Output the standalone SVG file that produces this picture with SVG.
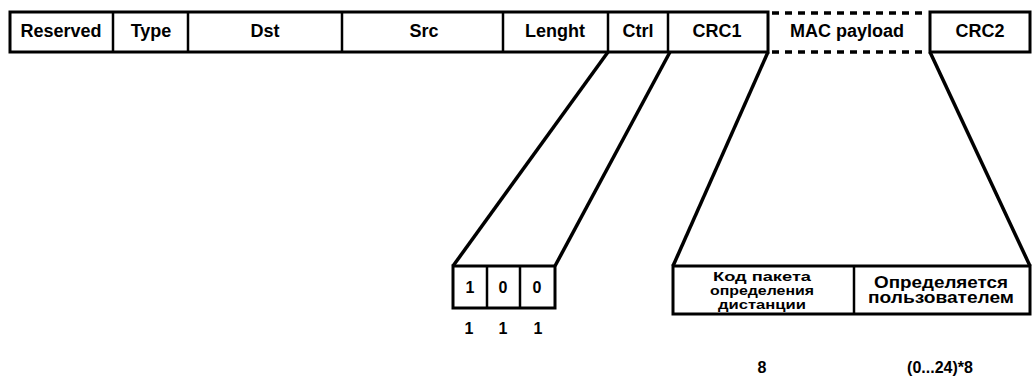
<svg xmlns="http://www.w3.org/2000/svg" width="1034" height="384" viewBox="0 0 1034 384">
<style>
text{font-family:"Liberation Sans",Arial,sans-serif;font-weight:bold;fill:#000;text-anchor:middle}
.h{font-size:18px}
.s{font-size:16px}
.t{font-size:13px}
.box{fill:#fff;stroke:#000;stroke-width:3}
.div{stroke:#000;stroke-width:2.5;fill:none}
.dash{stroke:#000;stroke-width:3.5;stroke-dasharray:7 6;fill:none}
.conn{stroke:#000;stroke-width:3.5;fill:none}
</style>
<rect width="1034" height="384" fill="#fff"/>
<g id="frame">
<rect class="box" x="10" y="12" width="758" height="40"/>
<line class="div" x1="113" y1="12" x2="113" y2="52"/>
<line class="div" x1="188" y1="12" x2="188" y2="52"/>
<line class="div" x1="342" y1="12" x2="342" y2="52"/>
<line class="div" x1="503" y1="12" x2="503" y2="52"/>
<line class="div" x1="608" y1="12" x2="608" y2="52"/>
<line class="div" x1="668" y1="12" x2="668" y2="52"/>
<line class="dash" x1="772" y1="13" x2="926" y2="13"/>
<line class="dash" x1="772" y1="52" x2="926" y2="52"/>
<rect class="box" x="930" y="12" width="100" height="40"/>
<text class="h" x="61" y="37">Reserved</text>
<text class="h" x="151" y="37">Type</text>
<text class="h" x="265" y="37">Dst</text>
<text class="h" x="424" y="37">Src</text>
<text class="h" x="555" y="37">Lenght</text>
<text class="h" x="638" y="37">Ctrl</text>
<text class="h" x="717" y="37">CRC1</text>
<text class="h" x="847" y="37">MAC payload</text>
<text class="h" x="980" y="37">CRC2</text>
</g>
<g id="connectors">
<line class="conn" x1="608" y1="52" x2="453" y2="266"/>
<line class="conn" x1="670" y1="52" x2="555" y2="266"/>
<line class="conn" x1="768" y1="52" x2="673" y2="266"/>
<line class="conn" x1="930" y1="52" x2="1030" y2="266"/>
</g>
<g id="ctrl-bits">
<rect class="box" x="453" y="266" width="102" height="42"/>
<line class="div" x1="487" y1="266" x2="487" y2="308"/>
<line class="div" x1="520" y1="266" x2="520" y2="308"/>
<text class="s" x="470" y="293">1</text>
<text class="s" x="503" y="293">0</text>
<text class="s" x="537" y="293">0</text>
<text class="s" x="469" y="334">1</text>
<text class="s" x="503" y="334">1</text>
<text class="s" x="538" y="334">1</text>
</g>
<g id="mac-payload">
<rect class="box" x="673" y="266" width="357" height="48"/>
<line class="div" x1="854" y1="266" x2="854" y2="314"/>
<text class="t" x="762" y="281" textLength="98" lengthAdjust="spacingAndGlyphs">Код пакета</text>
<text class="t" x="762" y="295" textLength="104" lengthAdjust="spacingAndGlyphs">определения</text>
<text class="t" x="762" y="309" textLength="88" lengthAdjust="spacingAndGlyphs">дистанции</text>
<text class="s" x="941" y="288" textLength="134" lengthAdjust="spacingAndGlyphs">Определяется</text>
<text class="s" x="941" y="303" textLength="146" lengthAdjust="spacingAndGlyphs">пользователем</text>
<text class="s" x="762" y="373">8</text>
<text class="s" x="940" y="373">(0...24)*8</text>
</g>
</svg>
